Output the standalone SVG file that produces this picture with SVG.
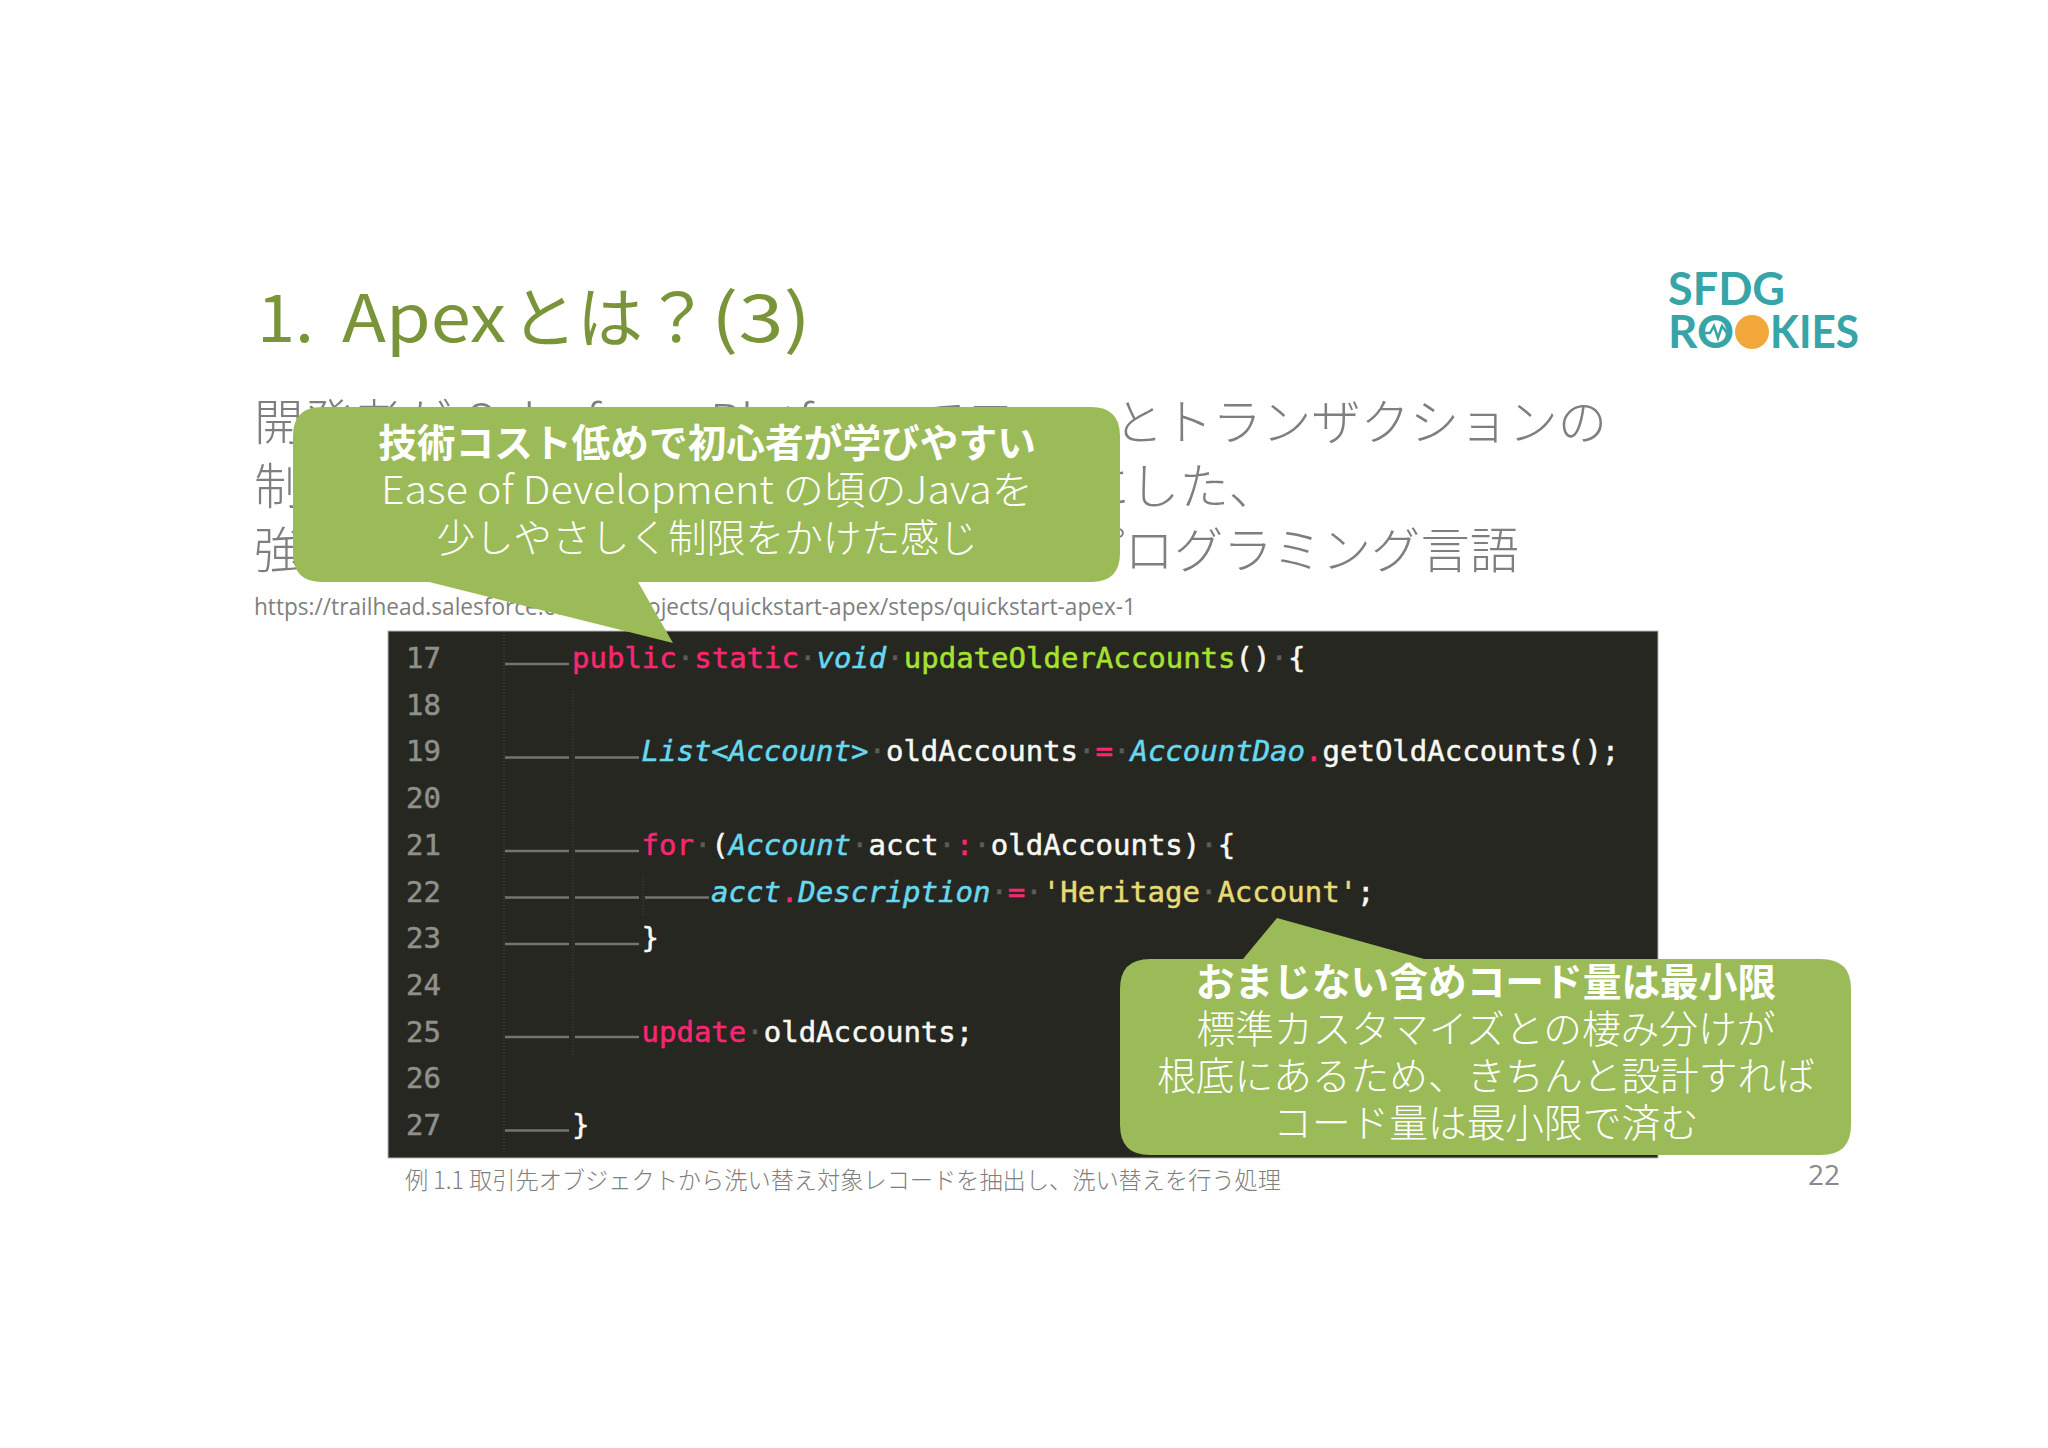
<svg xmlns="http://www.w3.org/2000/svg" width="2048" height="1448" viewBox="0 0 2048 1448">
<style>
.cjk{font-family:"Noto Sans CJK JP","Noto Sans",sans-serif;font-weight:300}
.ttl{font-family:"Noto Sans CJK JP","Noto Sans",sans-serif;font-size:66px;fill:#7a9439}
.body{font-size:49.300px;fill:#7f7f7f}
.call{font-size:38.7px;fill:#fff;text-anchor:middle}
.b{font-weight:700}
.bubble{fill:#9bbb59}
.code{font-family:"DejaVu Sans Mono",monospace;font-size:29px;fill:#f8f8f2;stroke:#f8f8f2;stroke-width:.5}
.num{fill:#8f908a;stroke:#8f908a}
.k{fill:#f92672;stroke:#f92672}.t{fill:#66d9ef;stroke:#66d9ef;font-style:italic}.f{fill:#a6e22e;stroke:#a6e22e}.s{fill:#e6db74;stroke:#e6db74}.d{fill:#5c5d56;stroke:#5c5d56}
.tab{stroke:#75756f;stroke-width:2.5;fill:none}
.guide{stroke:#4a4a45;stroke-width:1;stroke-dasharray:1 2;fill:none}
.logo{font-family:"Lato","Open Sans",sans-serif;font-weight:700;fill:#37a5a8;font-size:45px}
</style>
<rect width="2048" height="1448" fill="#fff"/>
<g id="title">
<text class="ttl" x="257" y="342" textLength="57" lengthAdjust="spacingAndGlyphs">1.</text>
<text class="ttl" x="342" y="342" textLength="164" lengthAdjust="spacingAndGlyphs">Apex</text>
<text class="ttl" x="511" y="342">とは</text>
<text class="ttl" x="644" y="342">？</text>
<text class="ttl" x="711" y="342" textLength="100" lengthAdjust="spacingAndGlyphs">(3)</text>
</g>
<g id="logo">
<text class="logo" x="1668" y="305" textLength="117" lengthAdjust="spacingAndGlyphs">SFDG</text>
<text class="logo" x="1668" y="348" textLength="66" lengthAdjust="spacingAndGlyphs">RO</text>
<text class="logo" x="1770" y="348" textLength="89" lengthAdjust="spacingAndGlyphs">KIES</text>
<polyline points="1705,333 1710,333 1714,326 1718,338 1722,326 1727,333" fill="none" stroke="#37a5a8" stroke-width="2.5"/>
<circle cx="1752" cy="332" r="17" fill="#f2a73b"/>
</g>
<g id="body">
<text class="cjk body" x="254" y="440">開発者が</text>
<text class="cjk body" x="466" y="440" textLength="440" lengthAdjust="spacingAndGlyphs">Salesforce Platform</text>
<text class="cjk body" x="1607" y="440" text-anchor="end">でフローとトランザクションの</text>
<text class="cjk body" x="254" y="504">制御</text>
<text class="cjk body" x="1278" y="504" text-anchor="end">ステートメントを実行できるようにした、</text>
<text class="cjk body" x="254" y="568">強く</text>
<text class="cjk body" x="1519" y="568" text-anchor="end">型付けされたオブジェクト指向のプログラミング言語</text>
<text x="254" y="615" font-family="'Open Sans','Noto Sans',sans-serif" font-size="23" fill="#7f7f7f" textLength="882" lengthAdjust="spacingAndGlyphs">https://trailhead.salesforce.com/ja/projects/quickstart-apex/steps/quickstart-apex-1</text>
</g>
<g id="code-panel">
<rect x="388" y="631" width="1270" height="527" fill="#272722" stroke="#b5b5b5" stroke-width="1"/>
<path class="guide" d="M504 632V1153M573 691V1057M643 878V917"/>
<path class="tab" d="M505 664H569M505 757.500H569M575 757.500H639M505 851H569M575 851H639M505 897.500H569M575 897.500H639M645 897.500H709M505 944H569M575 944H639M505 1037H569M575 1037H639M505 1130.500H569"/>
<g class="code">
<text class="num" x="406" y="668">17</text><text class="num" x="406" y="715">18</text><text class="num" x="406" y="761">19</text><text class="num" x="406" y="808">20</text><text class="num" x="406" y="855">21</text><text class="num" x="406" y="901.500">22</text><text class="num" x="406" y="948">23</text><text class="num" x="406" y="995">24</text><text class="num" x="406" y="1041.500">25</text><text class="num" x="406" y="1088">26</text><text class="num" x="406" y="1135">27</text>
<text x="572" y="668"><tspan class="k">public</tspan><tspan class="d">·</tspan><tspan class="k">static</tspan><tspan class="d">·</tspan><tspan class="t">void</tspan><tspan class="d">·</tspan><tspan class="f">updateOlderAccounts</tspan>()<tspan class="d">·</tspan>{</text>
<text x="641.500" y="761"><tspan class="t">List&lt;Account&gt;</tspan><tspan class="d">·</tspan>oldAccounts<tspan class="d">·</tspan><tspan class="k">=</tspan><tspan class="d">·</tspan><tspan class="t">AccountDao</tspan><tspan class="k">.</tspan>getOldAccounts();</text>
<text x="641.500" y="855"><tspan class="k">for</tspan><tspan class="d">·</tspan>(<tspan class="t">Account</tspan><tspan class="d">·</tspan>acct<tspan class="d">·</tspan><tspan class="k">:</tspan><tspan class="d">·</tspan>oldAccounts)<tspan class="d">·</tspan>{</text>
<text x="711" y="901.500"><tspan class="t">acct</tspan><tspan class="k">.</tspan><tspan class="t">Description</tspan><tspan class="d">·</tspan><tspan class="k">=</tspan><tspan class="d">·</tspan><tspan class="s">'Heritage</tspan><tspan class="d">·</tspan><tspan class="s">Account'</tspan>;</text>
<text x="641.500" y="948">}</text>
<text x="641.500" y="1041.500"><tspan class="k">update</tspan><tspan class="d">·</tspan>oldAccounts;</text>
<text x="572" y="1135">}</text>
</g>
</g>
<g id="caption"><text class="cjk" x="405" y="1189" font-size="24" fill="#7f7f7f" textLength="876" lengthAdjust="spacingAndGlyphs">例 1.1 取引先オブジェクトから洗い替え対象レコードを抽出し、洗い替えを行う処理</text></g>
<g id="page-number"><text x="1808" y="1185" font-family="'Open Sans','Noto Sans',sans-serif" font-size="28" fill="#8a8a8a">22</text></g>
<g id="callout-1">
<path class="bubble" d="M322 407H1091Q1120 407 1120 436V553Q1120 582 1091 582H638L673 643L429 582H322Q293 582 293 553V436Q293 407 322 407Z"/>
<text class="cjk call b" x="707" y="457">技術コスト低めで初心者が学びやすい</text>
<text class="cjk call" x="707" y="504" textLength="652" lengthAdjust="spacingAndGlyphs">Ease of Development の頃のJavaを</text>
<text class="cjk call" x="707" y="552">少しやさしく制限をかけた感じ</text>
</g>
<g id="callout-2">
<path class="bubble" d="M1150 959H1243L1277 918L1424 959H1821Q1851 959 1851 989V1125Q1851 1155 1821 1155H1150Q1120 1155 1120 1125V989Q1120 959 1150 959Z"/>
<text class="cjk call b" x="1486" y="996">おまじない含めコード量は最小限</text>
<text class="cjk call" x="1486" y="1043">標準カスタマイズとの棲み分けが</text>
<text class="cjk call" x="1486" y="1090">根底にあるため、きちんと設計すれば</text>
<text class="cjk call" x="1486" y="1137">コード量は最小限で済む</text>
</g>
</svg>
